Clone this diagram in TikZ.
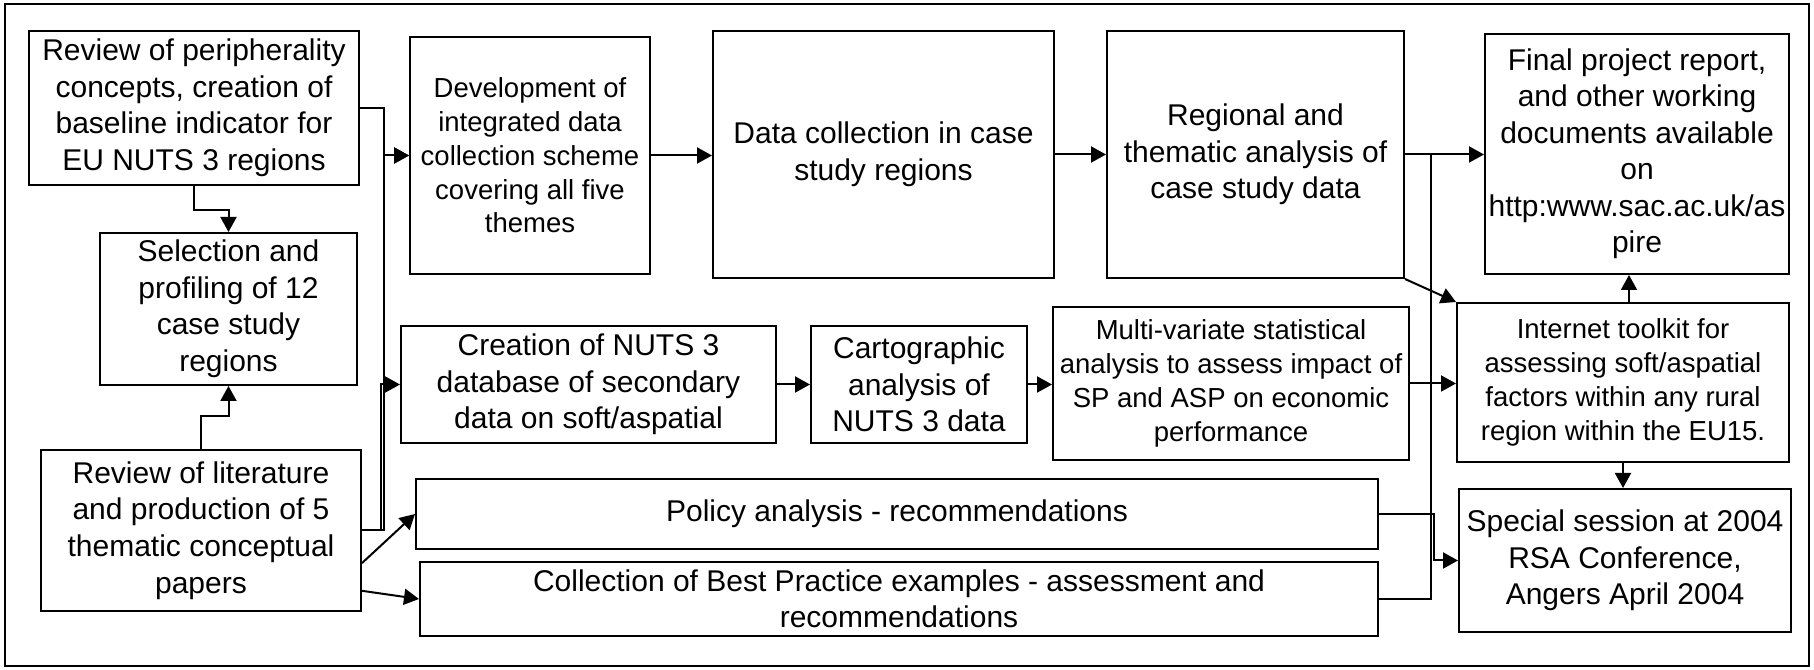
\documentclass[tikz,border=0pt]{standalone}
\usepackage{fontspec}
\setmainfont{Liberation Sans}
\usetikzlibrary{arrows.meta, calc}
\tikzset{
  box/.style   = {draw, line width=0.8pt, align=center, inner sep=1pt,
                  font=\fontsize{12}{14.6}\selectfont},
  sbox/.style  = {box, font=\fontsize{11}{13.5}\selectfont},
  arrow/.style = {-{Triangle[length=6pt, width=6.4pt]}, line width=0.8pt},
  link/.style  = {line width=0.8pt},
}

\begin{document}
\begin{tikzpicture}[x=0.4pt, y=-0.4pt]

  \useasboundingbox (0,0) rectangle (1814,670);
  \draw[link] (5,4) rectangle (1809,666);

  % left column
  \node[box, minimum width=132pt, minimum height=61.6pt] (A) at (194,108)
    {Review of peripherality\\concepts, creation of\\baseline indicator for\\EU NUTS 3 regions};
  \node[box, minimum width=102.8pt, minimum height=60.8pt] (B) at (228.5,309)
    {Selection and\\profiling of 12\\case study\\regions};
  \node[box, minimum width=128pt, minimum height=64.4pt] (C) at (201,530.5)
    {Review of literature\\and production of 5\\thematic conceptual\\papers};

  % top row
  \node[sbox, minimum width=96pt, minimum height=94.8pt] (Dev) at (530,155.5)
    {Development of\\integrated data\\collection scheme\\covering all five\\themes};
  \node[box, minimum width=136.4pt, minimum height=98.8pt] (Data) at (883.5,154.5)
    {Data collection in case\\study regions};
  \node[box, minimum width=118.8pt, minimum height=98.8pt] (Regional) at (1255.5,154.5)
    {Regional and\\thematic analysis of\\case study data};
  \node[box, minimum width=121.6pt, minimum height=96pt] (Final) at (1637,154)
    {Final project report,\\and other working\\documents available\\on\\http:www.sac.ac.uk/as\\pire};

  % middle row
  \node[box, minimum width=150pt, minimum height=46.8pt] (Creation) at (588.5,384.5)
    {Creation of NUTS 3\\database of secondary\\data on soft/aspatial};
  \node[box, minimum width=86.4pt, minimum height=46.8pt] (Carto) at (919,384.5)
    {Cartographic\\analysis of\\NUTS 3 data};
  \node[sbox, minimum width=142.4pt, minimum height=61.2pt] (Multi) at (1231,383.5)
    {Multi-variate statistical\\analysis to assess impact of\\SP and ASP on economic\\performance};
  \node[sbox, minimum width=132.8pt, minimum height=63.6pt] (Internet) at (1623,382.5)
    {Internet toolkit for\\assessing soft/aspatial\\factors within any rural\\region within the EU15.};

  % bottom rows
  \node[box, minimum width=384.8pt, minimum height=28pt] (Policy) at (897,514)
    {Policy analysis - recommendations};
  \node[box, minimum width=383.2pt, minimum height=29.6pt] (Best) at (899,599)
    {Collection of Best Practice examples - assessment and\\recommendations};
  \node[box, minimum width=132.8pt, minimum height=57.2pt] (Special) at (1625,560.5)
    {Special session at 2004\\RSA Conference,\\Angers April 2004};

  % vertical bus lines
  \coordinate (busL) at (384,0);
  \coordinate (busL2) at (381,0);
  \coordinate (busR) at (1431,0);
  \coordinate (busR2) at (1434,0);

  % left column links
  \draw[arrow] (A.south) -- ++(0,24) -| (B.north);
  \draw[arrow] (C.north) -- ++(0,-33) -| (B.south);
  \draw[arrow] (A.east) -| (busL |- Dev.west) -- (Dev.west);
  \draw[arrow] (C.east) -| (busL |- Dev.west) -- (Dev.west);
  \draw[arrow] (C.east) -| (busL2 |- Creation.west) -- (Creation.west);
  \draw[arrow] ($(C.north east)!.7!(C.south east)$) -- (Policy.west);
  \draw[arrow] ($(C.north east)!.87!(C.south east)$) -- (Best.west);

  % rows
  \foreach \a/\b in {Dev/Data, Data/Regional, Regional/Final,
                     Creation/Carto, Carto/Multi, Multi/Internet}
    \draw[arrow] (\a.east) -- (\a.east -| \b.west);

  % right side
  \draw[link] (Best.east) -| (busR |- Final.west);
  \draw[arrow] (Regional.south east) -- (Internet.north west);
  \draw[arrow] (Policy.east) -| (busR2 |- Special.west) -- (Special.west);
  \draw[arrow] ([xshift=2.4pt]Internet.north) -- ([xshift=2.4pt]Internet.north |- Final.south);
  \draw[arrow] (Internet.south) -- (Internet.south |- Special.north);

\end{tikzpicture}
\end{document}
